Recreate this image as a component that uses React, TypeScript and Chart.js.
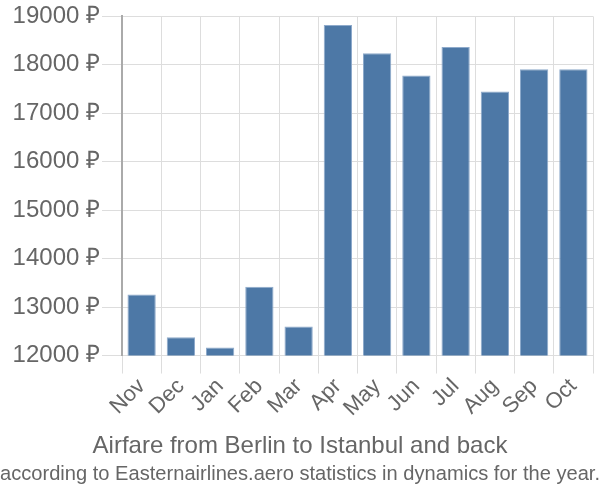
import React, { useEffect, useRef } from "react";
import { Chart, registerables } from "chart.js";

Chart.register(...registerables);

const months = ["Nov", "Dec", "Jan", "Feb", "Mar", "Apr", "May", "Jun", "Jul", "Aug", "Sep", "Oct"];
const prices = [13260, 12380, 12165, 13420, 12600, 18820, 18240, 17780, 18370, 17450, 17910, 17910];
const titleText = "Airfare from Berlin to Istanbul and back";
const subtitleText = "according to Easternairlines.aero statistics in dynamics for the year.";
const yMin = 12000;
const yMax = 19000;

export default function App() {
  const ref = useRef<HTMLCanvasElement>(null);
  useEffect(() => {
    document.body.style.margin = "0";
    const ctx = ref.current!;
    const font = "'Liberation Sans', Arial, sans-serif";
    const chart = new Chart(ctx, {
      type: "bar",
      data: {
        labels: months,
        datasets: [
          {
            data: prices,
            backgroundColor: "#4d78a6",
            borderColor: "#8eaacb",
            borderWidth: 1,
          },
        ],
      },
      options: {
        responsive: false,
        animation: false,
        layout: { padding: { left: 0, right: 0, top: 0, bottom: 0 } },
        plugins: {
          legend: { display: false },
          tooltip: { enabled: false },
          title: {
            display: true,
            text: titleText,
            position: "bottom",
            color: "#666",
            font: { family: font, size: 24, weight: "normal" },
            padding: { top: 10, bottom: 2 },
            weight: 1500,
          } as any,
          subtitle: {
            display: true,
            text: subtitleText,
            position: "bottom",
            color: "#666",
            font: { family: font, size: 20.5, weight: "normal" },
            padding: { top: 0, bottom: 13 },
            weight: 2500,
          } as any,
        },
        scales: {
          x: {
            grid: { color: "#dddddd", tickLength: 18, lineWidth: 1 },
            border: { color: "#dddddd" },
            ticks: {
              color: "#666",
              font: { family: font, size: 22 },
              maxRotation: 45,
              minRotation: 45,
              autoSkip: false,
              padding: 0,
            },
          },
          y: {
            min: yMin,
            max: yMax,
            grid: { color: "#dddddd", tickLength: 20 },
            border: { color: "#aaaaaa", width: 2 },
            ticks: {
              stepSize: 1000,
              color: "#666",
              font: { family: font, size: 24 },
              padding: 2,
              callback: (v: any) => `${v} ₽`,
            },
            afterFit: (s: any) => {
              s.width = 122;
            },
          },
          yRight: {
            position: "right",
            display: true,
            grid: { display: false },
            border: { display: false },
            ticks: { display: false },
            afterFit: (s: any) => {
              s.width = 7;
            },
          },
        },
      },
    });
    return () => chart.destroy();
  }, []);
  return (
    <div style={{ position: "absolute", left: 0, top: 0, width: 600, height: 500 }}>
      <canvas ref={ref} width={600} height={500} style={{ display: "block" }} />
    </div>
  );
}
